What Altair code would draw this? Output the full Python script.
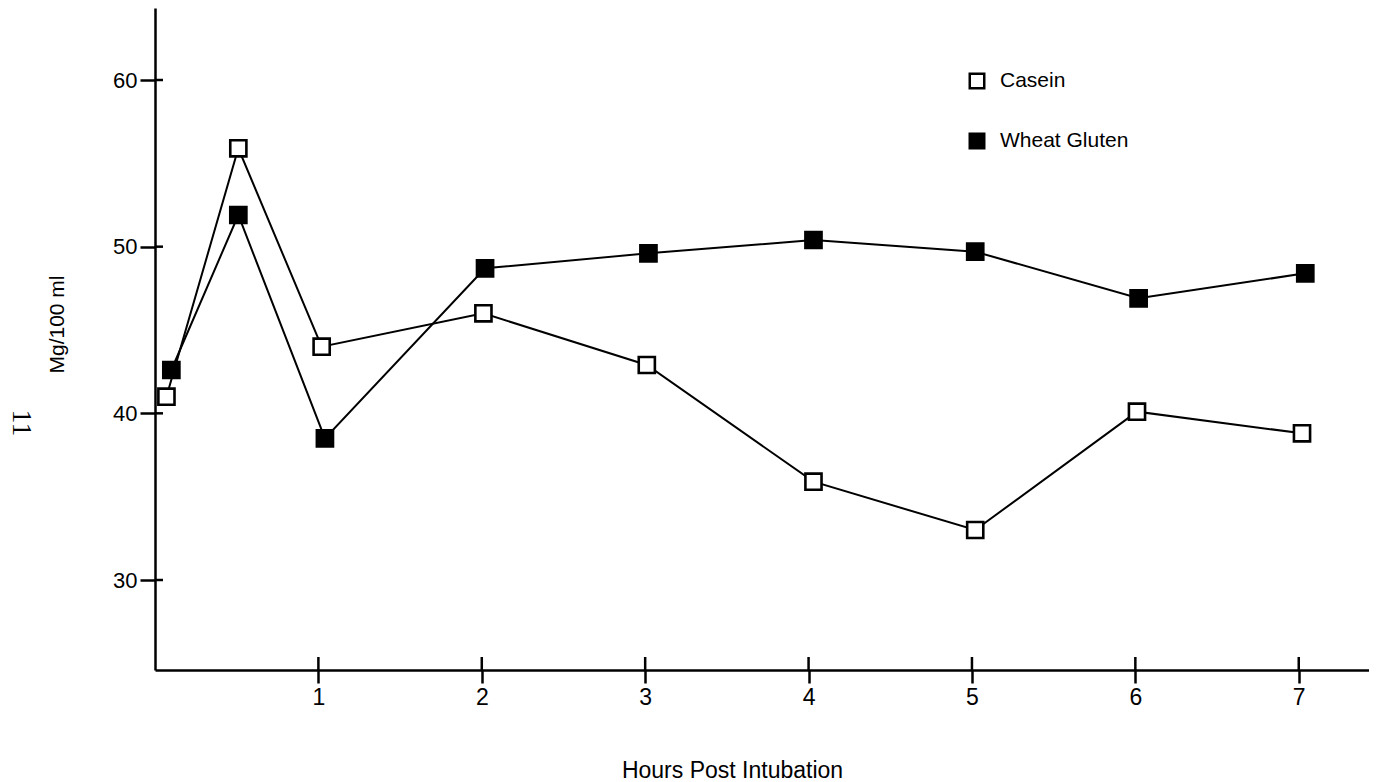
import altair as alt
import pandas as pd

series_names = ["Casein", "Wheat Gluten"]
hours_casein = [0.07, 0.51, 1.02, 2.01, 3.01, 4.03, 5.02, 6.01, 7.02]
casein = [41.0, 55.9, 44.0, 46.0, 42.9, 35.9, 33.0, 40.1, 38.8]
hours_wheat = [0.10, 0.51, 1.04, 2.02, 3.02, 4.03, 5.02, 6.02, 7.04]
wheat = [42.6, 51.9, 38.5, 48.7, 49.6, 50.4, 49.7, 46.9, 48.4]
x_ticks = [1, 2, 3, 4, 5, 6, 7]
y_ticks = [30, 40, 50, 60]
x_title = "Hours Post Intubation"
y_title = "Mg/100 ml"
page_label = "11"

df = pd.concat([
    pd.DataFrame({"hours": hours_casein, "value": casein, "series": series_names[0]}),
    pd.DataFrame({"hours": hours_wheat, "value": wheat, "series": series_names[1]}),
])

FONT = "Liberation Sans"

xscale = alt.Scale(domain=[0, 7.43], nice=False, zero=False)
yscale = alt.Scale(domain=[24.6, 64.32], nice=False, zero=False)

xaxis = alt.Axis(values=x_ticks, title=x_title, grid=False, format="d",
                 labelFontSize=23, labelPadding=3, tickSize=13,
                 titleFontSize=23, titleFontWeight="normal",
                 titleX=577, titleY=100, titleAnchor="start", titleAlign="center",
                 titleBaseline="middle")
yaxis = alt.Axis(values=y_ticks, title=y_title, grid=False, format="d",
                 labelFontSize=22, labelPadding=3, tickSize=15,
                 titleFontSize=21, titleFontWeight="normal",
                 titleAngle=-90, titleX=-98, titleY=316,
                 titleAlign="center", titleBaseline="middle")
x = alt.X("hours:Q", scale=xscale, axis=xaxis, title=x_title)
y = alt.Y("value:Q", scale=yscale, axis=yaxis, title=y_title)

base = alt.Chart(df)
lines = base.mark_line(color="black", strokeWidth=2).encode(x=x, y=y, detail="series:N")
points = base.mark_point(shape="square", size=260, strokeWidth=2.6, stroke="black",
                         filled=True, opacity=1).encode(
    x=x, y=y,
    fill=alt.Fill("series:N", scale=alt.Scale(domain=series_names, range=["white", "black"]),
                  legend=None))

# inner halves of the tick marks (ticks cross the axis line)
xt = alt.Chart(pd.DataFrame({"hours": x_ticks})).mark_rule(color="black", strokeWidth=2.5).encode(
    x=x, y=alt.value(649), y2=alt.value(662))
yt = alt.Chart(pd.DataFrame({"value": y_ticks})).mark_rule(color="black", strokeWidth=2.5).encode(
    y=y, x=alt.value(0), x2=alt.value(8))

layers = [lines, points, xt, yt]
leg_fill = ["white", "black"]
for i, name in enumerate(series_names):
    ldf = pd.DataFrame({"label": [name]})
    layers.append(alt.Chart(ldf).mark_point(shape="square", size=210, strokeWidth=2.5,
                                             stroke="black", fill=leg_fill[i], filled=True,
                                             opacity=1).encode(
        x=alt.value(822), y=alt.value(73 + 60 * i)))
    layers.append(alt.Chart(ldf).mark_text(align="left", baseline="middle", fontSize=21,
                                            font=FONT, color="black").encode(
        x=alt.value(845), y=alt.value(73 + 60 * i), text="label:N"))

pdf = pd.DataFrame({"label": [page_label]})
layers.append(alt.Chart(pdf).mark_text(angle=90, align="center", baseline="middle",
                                       fontSize=28, font="Liberation Serif",
                                       color="black").encode(
    x=alt.value(-134), y=alt.value(415), text="label:N"))

chart = alt.layer(*layers).properties(
    width=1214, height=662,
    autosize="none",
    background="white",
    padding={"left": 147, "top": 0, "right": 0, "bottom": 112},
).configure_view(strokeWidth=0, stroke="transparent").configure_axis(
    domainColor="black", domainWidth=2.5, tickColor="black", tickWidth=2.5,
    labelColor="black", titleColor="black", labelFont=FONT, titleFont=FONT,
)

chart.save("out.html", embed_options={"renderer": "svg", "actions": False})
